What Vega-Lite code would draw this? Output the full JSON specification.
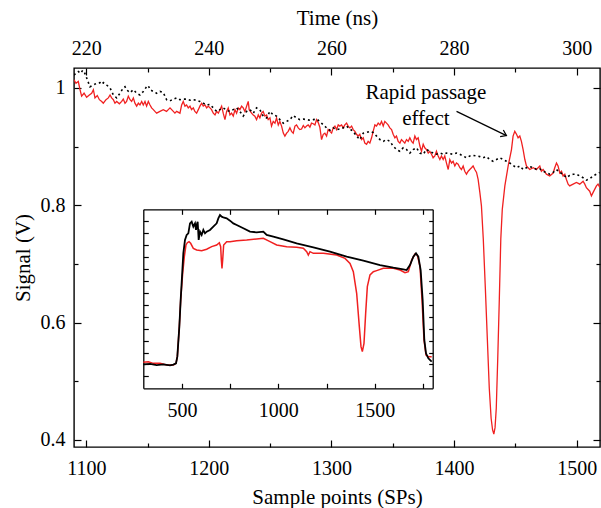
{
"$schema": "https://vega.github.io/schema/vega-lite/v6.json",
"width": 526, "height": 379,
"autosize": "none",
"padding": {"left": 74, "top": 68, "right": 1, "bottom": 61},
"background": "white",
"config": {
 "view": {"stroke": "black", "strokeWidth": 1.4},
 "font": "Liberation Serif",
 "axis": {"grid": false, "domain": false, "labelFont": "Liberation Serif", "labelFontSize": 20, "labelColor": "black", "titleFont": "Liberation Serif", "titleFontSize": 21, "titleFontWeight": "normal", "titleColor": "black", "tickColor": "black", "tickWidth": 1.2, "domainColor": "black", "domainWidth": 1.3, "labelFlush": false, "labelOverlap": false}
},
"datasets": {
"mainRed": [
{"x":1090,"y":1.014},{"x":1091.6,"y":1.008},{"x":1093.5,"y":1.011},{"x":1094.9,"y":0.997},{"x":1096.2,"y":0.986},{"x":1098.2,"y":0.991},{"x":1100.3,"y":0.984},{"x":1102.5,"y":0.988},{"x":1104.4,"y":0.991},{"x":1105.8,"y":0.997},{"x":1107.1,"y":0.983},{"x":1109.0,"y":0.987},{"x":1110.7,"y":0.980},{"x":1112.6,"y":0.977},{"x":1113.9,"y":0.974},{"x":1116.1,"y":0.980},{"x":1118.0,"y":0.983},{"x":1119.4,"y":0.988},{"x":1120.7,"y":0.983},{"x":1122.1,"y":0.980},{"x":1123.4,"y":0.974},{"x":1124.8,"y":0.977},{"x":1127.0,"y":0.973},{"x":1128.9,"y":0.977},{"x":1130.2,"y":0.981},{"x":1131.6,"y":0.974},{"x":1132.9,"y":0.977},{"x":1134.3,"y":0.986},{"x":1135.7,"y":0.980},{"x":1137.0,"y":0.977},{"x":1138.4,"y":0.983},{"x":1139.7,"y":0.974},{"x":1141.1,"y":0.969},{"x":1142.5,"y":0.974},{"x":1143.8,"y":0.971},{"x":1145.2,"y":0.977},{"x":1146.5,"y":0.971},{"x":1147.9,"y":0.977},{"x":1149.2,"y":0.969},{"x":1150.6,"y":0.977},{"x":1152.0,"y":0.971},{"x":1153.3,"y":0.966},{"x":1154.7,"y":0.963},{"x":1156.0,"y":0.960},{"x":1157.4,"y":0.957},{"x":1160.1,"y":0.960},{"x":1162.8,"y":0.963},{"x":1165.5,"y":0.960},{"x":1166.9,"y":0.963},{"x":1168.3,"y":0.966},{"x":1171.0,"y":0.960},{"x":1172.3,"y":0.957},{"x":1173.7,"y":0.960},{"x":1176.4,"y":0.957},{"x":1177.8,"y":0.971},{"x":1179.1,"y":0.977},{"x":1180.5,"y":0.969},{"x":1181.8,"y":0.971},{"x":1183.2,"y":0.966},{"x":1184.6,"y":0.969},{"x":1185.9,"y":0.963},{"x":1187.3,"y":0.966},{"x":1188.6,"y":0.960},{"x":1190.0,"y":0.957},{"x":1191.4,"y":0.963},{"x":1192.7,"y":0.969},{"x":1194.1,"y":0.974},{"x":1195.4,"y":0.969},{"x":1196.8,"y":0.971},{"x":1198.2,"y":0.966},{"x":1199.5,"y":0.969},{"x":1200.9,"y":0.966},{"x":1202.2,"y":0.963},{"x":1203.6,"y":0.957},{"x":1205.0,"y":0.954},{"x":1206.3,"y":0.960},{"x":1207.7,"y":0.957},{"x":1209.0,"y":0.963},{"x":1210.4,"y":0.969},{"x":1211.7,"y":0.957},{"x":1213.1,"y":0.946},{"x":1214.5,"y":0.960},{"x":1215.8,"y":0.966},{"x":1217.2,"y":0.954},{"x":1218.5,"y":0.957},{"x":1219.9,"y":0.952},{"x":1221.3,"y":0.963},{"x":1222.6,"y":0.957},{"x":1224.0,"y":0.966},{"x":1225.3,"y":0.963},{"x":1226.7,"y":0.969},{"x":1228.0,"y":0.966},{"x":1229.4,"y":0.960},{"x":1230.8,"y":0.969},{"x":1232.1,"y":0.977},{"x":1232.9,"y":0.963},{"x":1234.8,"y":0.957},{"x":1236.2,"y":0.954},{"x":1237.5,"y":0.952},{"x":1238.9,"y":0.946},{"x":1240.3,"y":0.954},{"x":1241.6,"y":0.949},{"x":1243.0,"y":0.957},{"x":1244.3,"y":0.960},{"x":1245.7,"y":0.952},{"x":1247.1,"y":0.954},{"x":1248.4,"y":0.946},{"x":1249.8,"y":0.949},{"x":1251.1,"y":0.935},{"x":1252.5,"y":0.943},{"x":1253.9,"y":0.940},{"x":1255.2,"y":0.949},{"x":1256.6,"y":0.937},{"x":1257.9,"y":0.943},{"x":1259.3,"y":0.935},{"x":1260.7,"y":0.923},{"x":1262.0,"y":0.918},{"x":1263.4,"y":0.923},{"x":1264.7,"y":0.926},{"x":1266.1,"y":0.932},{"x":1267.4,"y":0.926},{"x":1268.8,"y":0.923},{"x":1270.2,"y":0.935},{"x":1271.5,"y":0.937},{"x":1272.9,"y":0.932},{"x":1274.2,"y":0.929},{"x":1275.6,"y":0.930},{"x":1277.0,"y":0.936},{"x":1278.3,"y":0.932},{"x":1279.7,"y":0.935},{"x":1281.0,"y":0.937},{"x":1282.4,"y":0.933},{"x":1283.7,"y":0.940},{"x":1285.1,"y":0.939},{"x":1286.5,"y":0.937},{"x":1287.8,"y":0.946},{"x":1289.2,"y":0.941},{"x":1290.5,"y":0.933},
{"x":1291.9,"y":0.912},{"x":1293.3,"y":0.921},{"x":1294.6,"y":0.923},{"x":1296.0,"y":0.918},{"x":1297.3,"y":0.929},{"x":1298.7,"y":0.926},{"x":1300.1,"y":0.923},{"x":1301.4,"y":0.932},{"x":1302.8,"y":0.935},{"x":1304.1,"y":0.929},{"x":1305.5,"y":0.937},{"x":1306.8,"y":0.935},{"x":1308.2,"y":0.937},{"x":1309.6,"y":0.932},{"x":1310.9,"y":0.937},{"x":1312.3,"y":0.940},{"x":1313.6,"y":0.935},{"x":1315.0,"y":0.932},{"x":1316.4,"y":0.935},{"x":1317.7,"y":0.929},{"x":1319.1,"y":0.926},{"x":1320.4,"y":0.921},{"x":1321.8,"y":0.918},{"x":1323.1,"y":0.921},{"x":1324.5,"y":0.912},{"x":1325.9,"y":0.915},{"x":1327.2,"y":0.906},{"x":1328.6,"y":0.904},{"x":1329.9,"y":0.909},{"x":1331.3,"y":0.906},{"x":1332.7,"y":0.915},{"x":1334.0,"y":0.926},{"x":1335.4,"y":0.937},{"x":1336.7,"y":0.935},{"x":1338.1,"y":0.940},{"x":1339.5,"y":0.937},{"x":1340.8,"y":0.943},{"x":1342.2,"y":0.935},{"x":1343.5,"y":0.943},{"x":1344.9,"y":0.940},{"x":1346.2,"y":0.937},{"x":1347.6,"y":0.932},{"x":1349.0,"y":0.929},{"x":1350.3,"y":0.921},{"x":1351.7,"y":0.915},{"x":1353.0,"y":0.918},{"x":1354.4,"y":0.909},{"x":1355.8,"y":0.906},{"x":1357.1,"y":0.912},{"x":1358.5,"y":0.909},{"x":1359.8,"y":0.906},{"x":1361.2,"y":0.912},{"x":1362.6,"y":0.909},{"x":1363.9,"y":0.915},{"x":1365.3,"y":0.909},{"x":1366.6,"y":0.906},{"x":1368.0,"y":0.918},{"x":1369.3,"y":0.912},{"x":1370.7,"y":0.915},{"x":1372.1,"y":0.901},{"x":1373.4,"y":0.892},{"x":1374.8,"y":0.904},{"x":1376.1,"y":0.898},{"x":1377.5,"y":0.895},{"x":1378.9,"y":0.889},{"x":1380.2,"y":0.892},{"x":1381.6,"y":0.887},{"x":1382.9,"y":0.881},{"x":1384.3,"y":0.884},{"x":1385.6,"y":0.892},{"x":1387.0,"y":0.884},{"x":1388.4,"y":0.878},{"x":1389.7,"y":0.884},{"x":1391.1,"y":0.878},{"x":1392.4,"y":0.884},{"x":1393.8,"y":0.872},{"x":1395.2,"y":0.861},{"x":1396.5,"y":0.878},{"x":1397.9,"y":0.872},{"x":1399.2,"y":0.875},{"x":1400.6,"y":0.867},{"x":1401.9,"y":0.872},{"x":1403.3,"y":0.870},{"x":1404.7,"y":0.864},{"x":1406.0,"y":0.861},{"x":1407.4,"y":0.867},{"x":1408.7,"y":0.858},{"x":1410.1,"y":0.853},{"x":1411.5,"y":0.858},{"x":1412.8,"y":0.861},{"x":1414.2,"y":0.864},{"x":1415.5,"y":0.867},{"x":1416.9,"y":0.861},{"x":1418.3,"y":0.856},{"x":1419.6,"y":0.844},{"x":1421.0,"y":0.822},{"x":1422.3,"y":0.799},{"x":1423.8,"y":0.743},{"x":1425.5,"y":0.658},{"x":1427.1,"y":0.573},{"x":1428.7,"y":0.488},{"x":1430.2,"y":0.437},{"x":1431.4,"y":0.417},{"x":1432.4,"y":0.410},{"x":1433.4,"y":0.421},{"x":1434.4,"y":0.454},{"x":1435.6,"y":0.539},{"x":1436.9,"y":0.641},{"x":1438.1,"y":0.743},{"x":1439.3,"y":0.793},{"x":1441.4,"y":0.833},{"x":1444.1,"y":0.867},{"x":1446.8,"y":0.895},{"x":1448.1,"y":0.918},{"x":1449.5,"y":0.926},{"x":1450.9,"y":0.921},{"x":1452.2,"y":0.915},{"x":1453.6,"y":0.918},{"x":1454.9,"y":0.909},{"x":1456.3,"y":0.895},{"x":1457.7,"y":0.878},{"x":1459.0,"y":0.867},{"x":1461.7,"y":0.861},{"x":1464.5,"y":0.864},{"x":1467.2,"y":0.861},{"x":1469.9,"y":0.867},{"x":1471.2,"y":0.858},{"x":1472.6,"y":0.861},{"x":1475.3,"y":0.853},{"x":1478.0,"y":0.850},{"x":1480.8,"y":0.855},{"x":1482.1,"y":0.864},{"x":1483.5,"y":0.872},{"x":1484.8,"y":0.867},{"x":1486.2,"y":0.855},{"x":1487.6,"y":0.858},{"x":1488.9,"y":0.850},{"x":1490.3,"y":0.853},{"x":1491.6,"y":0.844},{"x":1493.0,"y":0.836},{"x":1494.3,"y":0.833},{"x":1497.1,"y":0.836},{"x":1499.8,"y":0.839},{"x":1502.5,"y":0.836},{"x":1505.2,"y":0.841},{"x":1506.6,"y":0.836},{"x":1507.9,"y":0.830},{"x":1510.6,"y":0.824},{"x":1512.0,"y":0.816},{"x":1513.4,"y":0.822},{"x":1516.1,"y":0.833},{"x":1517.4,"y":0.836},{"x":1519.0,"y":0.830}
],
"mainBlack": [
{"x":1090,"y":1.022},{"x":1091.6,"y":1.025},{"x":1093.5,"y":1.028},{"x":1095.4,"y":1.025},{"x":1097.1,"y":1.030},{"x":1098.2,"y":1.028},{"x":1099.8,"y":1.020},{"x":1103.0,"y":1.002},{"x":1105.8,"y":1.005},{"x":1108.5,"y":1.008},{"x":1111.2,"y":1.009},{"x":1112.6,"y":1.006},{"x":1113.9,"y":1.009},{"x":1116.6,"y":1.005},{"x":1119.4,"y":1.000},{"x":1122.1,"y":0.988},{"x":1124.8,"y":0.983},{"x":1127.5,"y":0.991},{"x":1130.2,"y":1.000},{"x":1131.6,"y":1.002},{"x":1132.9,"y":0.997},{"x":1135.7,"y":0.992},{"x":1138.4,"y":0.997},{"x":1141.1,"y":0.991},{"x":1143.8,"y":0.988},{"x":1146.5,"y":0.994},{"x":1149.2,"y":1.002},{"x":1150.6,"y":1.004},{"x":1152.0,"y":0.997},{"x":1154.7,"y":0.994},{"x":1157.4,"y":0.991},{"x":1160.1,"y":0.994},{"x":1162.8,"y":0.992},{"x":1165.5,"y":0.980},{"x":1168.3,"y":0.978},{"x":1171.0,"y":0.981},{"x":1173.7,"y":0.983},{"x":1176.4,"y":0.980},{"x":1179.1,"y":0.981},{"x":1181.8,"y":0.981},{"x":1184.6,"y":0.979},{"x":1187.3,"y":0.980},{"x":1190.0,"y":0.979},{"x":1192.7,"y":0.977},{"x":1195.4,"y":0.974},{"x":1198.2,"y":0.971},{"x":1200.9,"y":0.972},{"x":1203.6,"y":0.966},{"x":1206.3,"y":0.960},{"x":1209.0,"y":0.963},{"x":1211.7,"y":0.966},{"x":1214.5,"y":0.962},{"x":1217.2,"y":0.960},{"x":1219.9,"y":0.963},{"x":1222.6,"y":0.966},{"x":1225.3,"y":0.960},{"x":1228.0,"y":0.952},{"x":1230.8,"y":0.960},{"x":1233.5,"y":0.963},{"x":1236.2,"y":0.957},{"x":1238.9,"y":0.966},{"x":1241.6,"y":0.963},{"x":1244.3,"y":0.952},{"x":1247.1,"y":0.949},{"x":1249.8,"y":0.960},{"x":1252.5,"y":0.954},{"x":1255.2,"y":0.952},{"x":1257.9,"y":0.946},{"x":1260.7,"y":0.940},{"x":1263.4,"y":0.943},{"x":1266.1,"y":0.946},{"x":1268.8,"y":0.953},{"x":1271.5,"y":0.949},{"x":1274.2,"y":0.946},{"x":1277.0,"y":0.947},{"x":1279.7,"y":0.946},{"x":1282.4,"y":0.945},{"x":1285.1,"y":0.946},{"x":1287.8,"y":0.947},{"x":1290.5,"y":0.943},
{"x":1293.3,"y":0.937},{"x":1296.0,"y":0.932},{"x":1298.7,"y":0.928},{"x":1301.4,"y":0.932},{"x":1304.1,"y":0.929},{"x":1306.8,"y":0.930},{"x":1309.6,"y":0.932},{"x":1312.3,"y":0.935},{"x":1315.0,"y":0.930},{"x":1317.7,"y":0.926},{"x":1320.4,"y":0.918},{"x":1323.1,"y":0.912},{"x":1325.9,"y":0.923},{"x":1328.6,"y":0.924},{"x":1331.3,"y":0.926},{"x":1334.0,"y":0.924},{"x":1336.7,"y":0.918},{"x":1339.5,"y":0.912},{"x":1342.2,"y":0.909},{"x":1344.9,"y":0.912},{"x":1347.6,"y":0.909},{"x":1350.3,"y":0.901},{"x":1353.0,"y":0.895},{"x":1355.8,"y":0.892},{"x":1358.5,"y":0.898},{"x":1361.2,"y":0.895},{"x":1363.9,"y":0.889},{"x":1366.6,"y":0.895},{"x":1369.3,"y":0.898},{"x":1372.1,"y":0.889},{"x":1374.8,"y":0.887},{"x":1377.5,"y":0.895},{"x":1380.2,"y":0.892},{"x":1382.9,"y":0.889},{"x":1385.6,"y":0.887},{"x":1388.4,"y":0.889},{"x":1391.1,"y":0.887},{"x":1393.8,"y":0.889},{"x":1396.5,"y":0.888},{"x":1399.2,"y":0.887},{"x":1401.9,"y":0.889},{"x":1404.7,"y":0.887},{"x":1407.4,"y":0.884},{"x":1410.1,"y":0.881},{"x":1412.8,"y":0.884},{"x":1415.5,"y":0.885},{"x":1418.3,"y":0.884},{"x":1421.0,"y":0.883},{"x":1423.7,"y":0.881},{"x":1426.4,"y":0.883},{"x":1429.1,"y":0.878},{"x":1431.8,"y":0.875},{"x":1434.6,"y":0.878},{"x":1437.3,"y":0.881},{"x":1440.0,"y":0.878},{"x":1442.7,"y":0.875},{"x":1445.4,"y":0.872},{"x":1448.1,"y":0.868},{"x":1450.9,"y":0.864},{"x":1453.6,"y":0.867},{"x":1456.3,"y":0.861},{"x":1459.0,"y":0.864},{"x":1461.7,"y":0.866},{"x":1464.5,"y":0.864},{"x":1467.2,"y":0.861},{"x":1469.9,"y":0.862},{"x":1472.6,"y":0.858},{"x":1475.3,"y":0.856},{"x":1478.0,"y":0.853},{"x":1480.8,"y":0.856},{"x":1483.5,"y":0.861},{"x":1486.2,"y":0.856},{"x":1488.9,"y":0.853},{"x":1491.6,"y":0.847},{"x":1494.3,"y":0.851},{"x":1497.1,"y":0.853},{"x":1499.8,"y":0.853},{"x":1502.5,"y":0.850},{"x":1505.2,"y":0.847},{"x":1507.9,"y":0.843},{"x":1510.6,"y":0.845},{"x":1513.4,"y":0.850},{"x":1516.1,"y":0.853},{"x":1518.8,"y":0.856}
],
"insetRed": [
{"x":300.2,"y":0.218},{"x":326.1,"y":0.223},{"x":352.0,"y":0.209},{"x":386.6,"y":0.209},{"x":421.1,"y":0.195},{"x":455.7,"y":0.195},{"x":469.5,"y":0.209},{"x":476.4,"y":0.265},{"x":486.8,"y":0.517},{"x":493.7,"y":0.740},{"x":504.1,"y":0.963},{"x":512.7,"y":1.103},{"x":521.3,"y":1.201},{"x":528.2,"y":1.220},{"x":536.9,"y":1.229},{"x":545.5,"y":1.215},{"x":559.3,"y":1.173},{"x":576.6,"y":1.159},{"x":602.5,"y":1.153},{"x":628.4,"y":1.165},{"x":654.3,"y":1.187},{"x":680.3,"y":1.201},{"x":694.1,"y":1.220},{"x":701.0,"y":1.187},{"x":704.5,"y":1.075},{"x":707.9,"y":1.005},{"x":711.4,"y":1.075},{"x":716.5,"y":1.201},{"x":732.1,"y":1.229},{"x":749.4,"y":1.229},{"x":784.0,"y":1.237},{"x":835.8,"y":1.243},{"x":887.6,"y":1.251},{"x":922.1,"y":1.257},{"x":956.7,"y":1.229},{"x":991.3,"y":1.201},{"x":1043.1,"y":1.187},{"x":1094.9,"y":1.181},{"x":1129.5,"y":1.173},{"x":1146.8,"y":1.145},{"x":1155.4,"y":1.117},{"x":1164.0,"y":1.145},{"x":1181.3,"y":1.131},{"x":1233.1,"y":1.131},{"x":1302.2,"y":1.117},{"x":1345.5,"y":1.089},{"x":1371.4,"y":1.047},{"x":1388.6,"y":0.977},{"x":1405.9,"y":0.796},{"x":1419.7,"y":0.517},{"x":1428.4,"y":0.349},{"x":1435.3,"y":0.307},{"x":1443.9,"y":0.377},{"x":1452.5,"y":0.628},{"x":1461.2,"y":0.852},{"x":1475.0,"y":0.950},{"x":1492.3,"y":0.977},{"x":1509.6,"y":0.986},{"x":1544.1,"y":1.005},{"x":1595.9,"y":1.005},{"x":1630.5,"y":0.991},{"x":1656.4,"y":0.969},{"x":1673.7,"y":0.977},{"x":1691.0,"y":1.075},{"x":1708.2,"y":1.125},{"x":1720.4,"y":1.117},{"x":1734.2,"y":1.019},{"x":1744.6,"y":0.740},{"x":1754.9,"y":0.405},{"x":1765.3,"y":0.279},{"x":1777.4,"y":0.265},{"x":1794.7,"y":0.265}
],
"insetBlack": [
{"x":300.2,"y":0.201},{"x":334.7,"y":0.204},{"x":369.3,"y":0.195},{"x":403.8,"y":0.201},{"x":438.4,"y":0.193},{"x":455.7,"y":0.198},{"x":469.5,"y":0.209},{"x":476.4,"y":0.265},{"x":486.8,"y":0.517},{"x":493.7,"y":0.740},{"x":500.6,"y":0.936},{"x":507.5,"y":1.131},{"x":516.1,"y":1.243},{"x":524.8,"y":1.285},{"x":533.4,"y":1.299},{"x":542.1,"y":1.382},{"x":550.7,"y":1.396},{"x":559.3,"y":1.355},{"x":568.0,"y":1.382},{"x":573.2,"y":1.327},{"x":576.6,"y":1.368},{"x":581.8,"y":1.396},{"x":587.0,"y":1.243},{"x":593.9,"y":1.313},{"x":602.5,"y":1.285},{"x":611.2,"y":1.327},{"x":619.8,"y":1.299},{"x":628.4,"y":1.313},{"x":645.7,"y":1.327},{"x":663.0,"y":1.355},{"x":680.3,"y":1.382},{"x":688.9,"y":1.424},{"x":697.5,"y":1.452},{"x":706.2,"y":1.438},{"x":714.8,"y":1.433},{"x":732.1,"y":1.424},{"x":749.4,"y":1.405},{"x":766.7,"y":1.382},{"x":784.0,"y":1.368},{"x":818.5,"y":1.341},{"x":853.0,"y":1.313},{"x":887.6,"y":1.307},{"x":922.1,"y":1.313},{"x":939.4,"y":1.285},{"x":974.0,"y":1.271},{"x":1025.8,"y":1.248},{"x":1094.9,"y":1.215},{"x":1181.3,"y":1.181},{"x":1267.7,"y":1.145},{"x":1354.1,"y":1.103},{"x":1440.5,"y":1.070},{"x":1526.8,"y":1.033},{"x":1595.9,"y":1.011},{"x":1647.8,"y":0.997},{"x":1665.1,"y":0.991},{"x":1682.3,"y":1.033},{"x":1699.6,"y":1.103},{"x":1713.4,"y":1.131},{"x":1725.5,"y":1.103},{"x":1737.6,"y":0.991},{"x":1748.0,"y":0.740},{"x":1756.6,"y":0.405},{"x":1765.3,"y":0.293},{"x":1777.4,"y":0.251},{"x":1794.7,"y":0.223}
],
"annot": [{"x":1377,"y":0.981,"t":"Rapid passage"},{"x":1377,"y":0.936,"t":"effect"}],
"arrow": [{"x":1402.0,"y":0.960,"x2":1442.7,"y2":0.9188}]
},
"layer": [
{
 "data": {"name": "mainRed"},
 "mark": {"type": "line", "color": "#f02020", "strokeWidth": 1.3, "clip": true},
 "encoding": {
  "x": {"field": "x", "type": "quantitative", "scale": {"domain": [1090, 1519], "nice": false, "zero": false},
   "axis": {"orient": "bottom", "values": [1100,1150,1200,1250,1300,1350,1400,1450,1500], "format": "d", "labelExpr": "datum.value % 100 == 0 ? datum.label : ''", "tickSize": {"condition": {"test": "datum.value % 100 == 0", "value": -7}, "value": -4}, "labelPadding": 18, "title": "Sample points (SPs)", "titlePadding": 5}},
  "y": {"field": "y", "type": "quantitative", "scale": {"domain": [0.388, 1.034], "nice": false, "zero": false},
   "axis": {"orient": "left", "values": [0.4,0.5,0.6,0.7,0.8,0.9,1], "format": "~g", "labelExpr": "(datum.value == 0.5 || datum.value == 0.7 || datum.value == 0.9) ? '' : datum.label", "tickSize": {"condition": {"test": "datum.value == 0.5 || datum.value == 0.7 || datum.value == 0.9", "value": -4}, "value": -7}, "labelPadding": 16, "title": "Signal (V)", "titlePadding": 7}}
 }
},
{
 "data": {"name": "mainBlack"},
 "mark": {"type": "line", "color": "black", "strokeWidth": 1.6, "strokeDash": [2, 3], "clip": true},
 "encoding": {
  "x": {"field": "x", "type": "quantitative", "scale": {"domain": [1090, 1519], "nice": false, "zero": false},
   "axis": {"orient": "top", "values": [1100,1150,1200,1250,1300,1350,1400,1450,1500], "labelExpr": "datum.value % 100 == 0 ? format(datum.value / 5, 'd') : ''", "tickSize": {"condition": {"test": "datum.value % 100 == 0", "value": -7}, "value": -4}, "labelPadding": 17, "title": "Time (ns)", "titlePadding": 7}},
  "y": {"field": "y", "type": "quantitative", "scale": {"domain": [0.388, 1.034], "nice": false, "zero": false},
   "axis": {"orient": "right", "values": [0.4,0.5,0.6,0.7,0.8,0.9,1], "labels": false, "tickSize": {"condition": {"test": "datum.value == 0.5 || datum.value == 0.7 || datum.value == 0.9", "value": -4}, "value": -7}, "title": null}}
 }
},
{
 "data": {"name": "insetRed"},
 "mark": {"type": "line", "color": "#f02020", "strokeWidth": 1.5},
 "encoding": {
  "x": {"field": "x", "type": "quantitative", "scale": {"domain": [300, 1800], "range": [69.3, 358.7], "nice": false, "zero": false},
   "axis": {"orient": "top", "offset": -141.3, "values": [500,750,1000,1250,1500,1750], "labels": false, "tickSize": -5, "domain": true, "title": null}},
  "y": {"field": "y", "type": "quantitative", "scale": {"domain": [0, 1.5], "range": [320.3, 141.3], "nice": false, "zero": false},
   "axis": {"orient": "right", "offset": -167.3, "values": [0.1,0.2,0.3,0.4,0.5,0.6,0.7,0.8,0.9,1.0,1.1,1.2,1.3,1.4], "labels": false, "tickSize": -4, "domain": true, "title": null}}
 }
},
{
 "data": {"name": "insetBlack"},
 "mark": {"type": "line", "color": "black", "strokeWidth": 1.8},
 "encoding": {
  "x": {"field": "x", "type": "quantitative", "scale": {"domain": [300, 1800], "range": [69.3, 358.7], "nice": false, "zero": false},
   "axis": {"orient": "bottom", "offset": -58.7, "values": [500,750,1000,1250,1500,1750], "format": "d", "labelExpr": "datum.value % 500 == 0 ? datum.label : ''", "tickSize": -5, "labelPadding": 17, "domain": true, "title": null}},
  "y": {"field": "y", "type": "quantitative", "scale": {"domain": [0, 1.5], "range": [320.3, 141.3], "nice": false, "zero": false},
   "axis": {"orient": "left", "offset": -69.3, "values": [0.1,0.2,0.3,0.4,0.5,0.6,0.7,0.8,0.9,1.0,1.1,1.2,1.3,1.4], "labels": false, "tickSize": -5, "domain": true, "title": null}}
 }
},
{
 "data": {"name": "annot"},
 "mark": {"type": "text", "font": "Liberation Serif", "fontSize": 21, "align": "center", "baseline": "alphabetic", "color": "black"},
 "encoding": {
  "x": {"field": "x", "type": "quantitative", "scale": {"domain": [1090, 1519], "nice": false, "zero": false}, "axis": null},
  "y": {"field": "y", "type": "quantitative", "scale": {"domain": [0.388, 1.034], "nice": false, "zero": false}, "axis": null},
  "text": {"field": "t"}
 }
},
{
 "data": {"name": "arrow"},
 "mark": {"type": "rule", "color": "black", "strokeWidth": 1.2},
 "encoding": {
  "x": {"field": "x", "type": "quantitative", "scale": {"domain": [1090, 1519], "nice": false, "zero": false}, "axis": null},
  "y": {"field": "y", "type": "quantitative", "scale": {"domain": [0.388, 1.034], "nice": false, "zero": false}, "axis": null},
  "x2": {"field": "x2"},
  "y2": {"field": "y2"}
 }
},
{
 "data": {"name": "arrow"},
 "mark": {"type": "point", "shape": "M -1 -0.7 L 0 0 L -1 0.7", "filled": false, "stroke": "black", "strokeWidth": 1.2, "size": 110, "angle": 26, "opacity": 1},
 "encoding": {
  "x": {"field": "x2", "type": "quantitative", "scale": {"domain": [1090, 1519], "nice": false, "zero": false}, "axis": null},
  "y": {"field": "y2", "type": "quantitative", "scale": {"domain": [0.388, 1.034], "nice": false, "zero": false}, "axis": null}
 }
}
],
"resolve": {"scale": {"x": "independent", "y": "independent"}, "axis": {"x": "independent", "y": "independent"}}
}
